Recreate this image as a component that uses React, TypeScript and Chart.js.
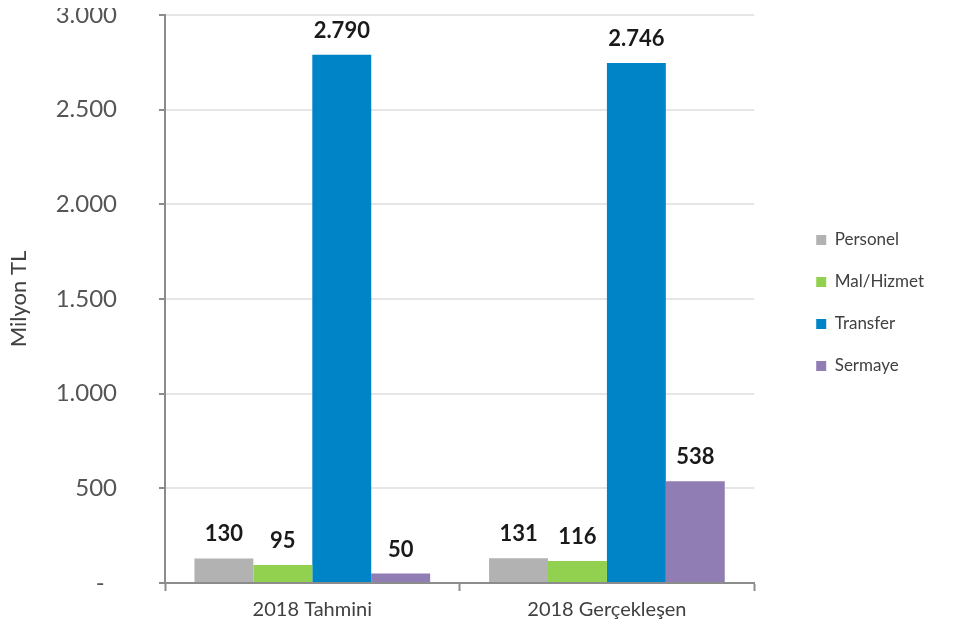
import React, { useEffect, useRef } from "react";
import { Chart, registerables } from "chart.js";

Chart.register(...registerables);

const categories = ["2018 Tahmini", "2018 Gerçekleşen"];
const seriesNames = ["Personel", "Mal/Hizmet", "Transfer", "Sermaye"];
const personel = [130, 131];
const malHizmet = [95, 116];
const transfer = [2790, 2746];
const sermaye = [50, 538];
const seriesColors = ["#b2b2b2", "#92d050", "#0084c8", "#8f7db3"];
const yTicks = [0, 500, 1000, 1500, 2000, 2500, 3000];

const FONT = "Lato, 'Open Sans', sans-serif";

function fmt(v: number): string {
  return Math.round(v)
    .toString()
    .replace(/\B(?=(\d{3})+(?!\d))/g, ".");
}

const valueLabels = {
  id: "valueLabels",
  afterDatasetsDraw(chart: any) {
    const ctx = chart.ctx;
    ctx.save();
    ctx.font = `bold 22px ${FONT}`;
    ctx.fillStyle = "#1a1a1a";
    ctx.textAlign = "center";
    ctx.textBaseline = "alphabetic";
    chart.data.datasets.forEach((ds: any, i: number) => {
      const meta = chart.getDatasetMeta(i);
      meta.data.forEach((bar: any, j: number) => {
        ctx.fillText(fmt(ds.data[j]), bar.x, bar.y - 17);
      });
    });
    ctx.restore();
  },
};

const legendShift = {
  id: "legendShift",
  afterLayout(chart: any) {
    const lg = chart.legend;
    if (lg) {
      lg.top -= 19;
      lg.bottom -= 19;
    }
  },
};

export default function App() {
  const ref = useRef<HTMLCanvasElement | null>(null);
  useEffect(() => {
    if (!ref.current) return;
    const all = [personel, malHizmet, transfer, sermaye];
    const chart = new Chart(ref.current, {
      type: "bar",
      data: {
        labels: categories,
        datasets: seriesNames.map((name, i) => ({
          label: name,
          data: all[i],
          backgroundColor: seriesColors[i],
          borderWidth: 0,
          categoryPercentage: 0.8,
          barPercentage: 1.0,
        })),
      },
      options: {
        animation: false,
        responsive: true,
        maintainAspectRatio: false,
        layout: { padding: { top: 15, right: 28, left: 3, bottom: 3 } },
        plugins: {
          tooltip: { enabled: false },
          legend: {
            position: "right",
            labels: {
              boxWidth: 10,
              boxHeight: 10,
              padding: 25,
              color: "#404040",
              font: { family: FONT, size: 17 },
            },
          },
        },
        scales: {
          x: {
            grid: {
              drawOnChartArea: false,
              drawTicks: true,
              tickLength: 8,
              tickColor: "#8c8c8c",
              tickWidth: 2,
            },
            border: { color: "#8c8c8c", width: 2 },
            ticks: {
              color: "#404040",
              font: { family: FONT, size: 20 },
              padding: 7,
            },
          },
          y: {
            min: 0,
            max: 3000,
            afterBuildTicks: (axis: any) => {
              axis.ticks = yTicks.map((v) => ({ value: v }));
            },
            afterFit: (scale: any) => {
              scale.width = 162;
              scale.paddingTop = 0;
              scale.paddingBottom = 0;
            },
            grid: {
              color: "#e6e6e6",
              lineWidth: 2,
              tickLength: 6,
              tickColor: "#8c8c8c",
              tickWidth: 2,
            },
            border: { color: "#8c8c8c", width: 2 },
            ticks: {
              color: "#555555",
              font: { family: FONT, size: 24 },
              padding: 42,
              callback: (v: any) => (Number(v) === 0 ? "-  " : fmt(Number(v))),
            },
            title: {
              display: true,
              text: "Milyon TL",
              color: "#404040",
              font: { family: FONT, size: 22 },
              padding: { top: 3, bottom: 0 },
            },
          },
          gap: {
            type: "linear",
            position: "right",
            display: true,
            grid: { display: false, drawTicks: false },
            border: { display: false },
            ticks: { display: false },
            afterFit: (scale: any) => {
              scale.width = 37;
            },
          },
        },
      },
      plugins: [valueLabels, legendShift],
    });
    return () => chart.destroy();
  }, []);
  return (
    <div style={{ width: 962, height: 632, margin: -8, position: "relative" }}>
      <canvas ref={ref} />
    </div>
  );
}
